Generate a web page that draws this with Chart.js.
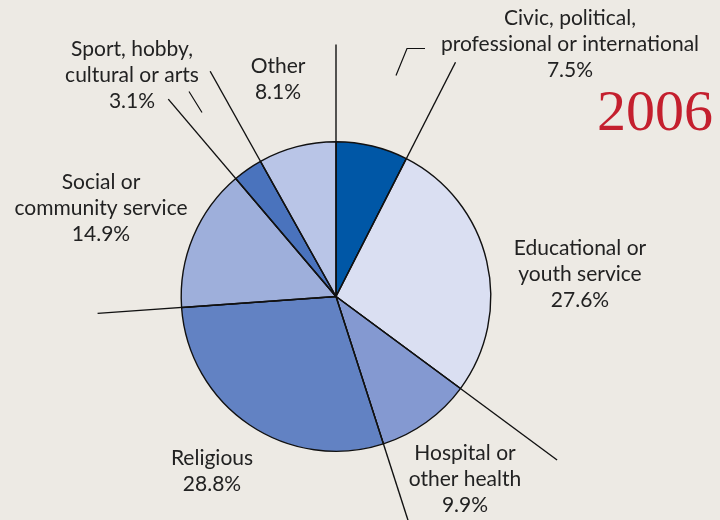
<!DOCTYPE html>
<html>
<head>
<meta charset="utf-8">
<script src="https://cdn.jsdelivr.net/npm/chart.js@4.4.0/dist/chart.umd.min.js"></script>
<style>
  html, body { margin: 0; padding: 0; background: #edeae4; }
  #wrap { width: 720px; height: 520px; position: relative; }
</style>
</head>
<body>
<div id="wrap"><canvas id="pie" width="720" height="520"></canvas></div>
<script>
// data
const categories = [
    ['Civic, political,', 'professional or international'],
    ['Educational or', 'youth service'],
    ['Hospital or', 'other health'],
    ['Religious'],
    ['Social or', 'community service'],
    ['Sport, hobby,', 'cultural or arts'],
    ['Other']
];
const shares = [7.5, 27.6, 9.9, 28.8, 14.9, 3.1, 8.1];
const yearLabel = '2006';

const sliceColors = ['#0057a6', '#dadff2', '#8499d1', '#6282c3', '#9eafdb', '#4a73bd', '#b9c5e7'];

// length of the line drawn out from the centre at the start of each slice
const rayLength = [252, 263, 275, 270, 239, 259, 258];
// label centre, relative to the pie centre
const labelOffset = [[234, -252], [244, -22], [129, 183], [-124, 175], [-235, -88], [-204, -221], [-58, -217]];

const rays = {
    id: 'rays',
    afterDatasetsDraw(chart) {
        const ctx = chart.ctx;
        const arcs = chart.getDatasetMeta(0).data;
        const cx = arcs[0].x, cy = arcs[0].y;
        ctx.save();
        ctx.strokeStyle = '#111';
        ctx.lineWidth = 1.4;
        arcs.forEach((a, i) => {
            const len = rayLength[i];
            ctx.beginPath();
            ctx.moveTo(cx, cy);
            ctx.lineTo(cx + len * Math.cos(a.startAngle), cy + len * Math.sin(a.startAngle));
            ctx.stroke();
        });
        // stray leader bits
        ctx.lineWidth = 1.2;
        ctx.beginPath();
        ctx.moveTo(cx + 60, cy - 221);
        ctx.lineTo(cx + 71, cy - 248);
        ctx.lineTo(cx + 89, cy - 248);
        ctx.moveTo(cx - 147, cy - 205);
        ctx.lineTo(cx - 134, cy - 184);
        ctx.stroke();

        // labels
        ctx.fillStyle = '#222';
        ctx.font = '21px Lato';
        ctx.textAlign = 'center';
        ctx.textBaseline = 'middle';
        const lh = 26;
        categories.forEach((lines, i) => {
            const rows = lines.concat([shares[i].toFixed(1) + '%']);
            const x = cx + labelOffset[i][0];
            const y0 = cy + labelOffset[i][1] - (rows.length - 1) * lh / 2;
            rows.forEach((t, k) => ctx.fillText(t, x, y0 + k * lh));
        });

        ctx.fillStyle = '#c41f2e';
        ctx.font = '58px "Liberation Serif"';
        ctx.textAlign = 'right';
        ctx.textBaseline = 'alphabetic';
        ctx.fillText(yearLabel, 713, 130);
        ctx.restore();
    }
};

const ctx1 = document.getElementById('pie').getContext('2d');
const pie = new Chart(ctx1, {
    type: 'pie',
    data: {
        labels: categories.map(c => c.join(' ')),
        datasets: [{
            data: shares,
            backgroundColor: sliceColors,
            borderColor: '#111',
            borderWidth: 1.4,
            borderAlign: 'center'
        }]
    },
    options: {
        responsive: false,
        animation: false,
        layout: {
            padding: { left: 100, right: 148, top: 141, bottom: 68 }
        },
        plugins: {
            legend: { display: false },
            tooltip: { enabled: false }
        }
    },
    plugins: [rays]
});
</script>
</body>
</html>
